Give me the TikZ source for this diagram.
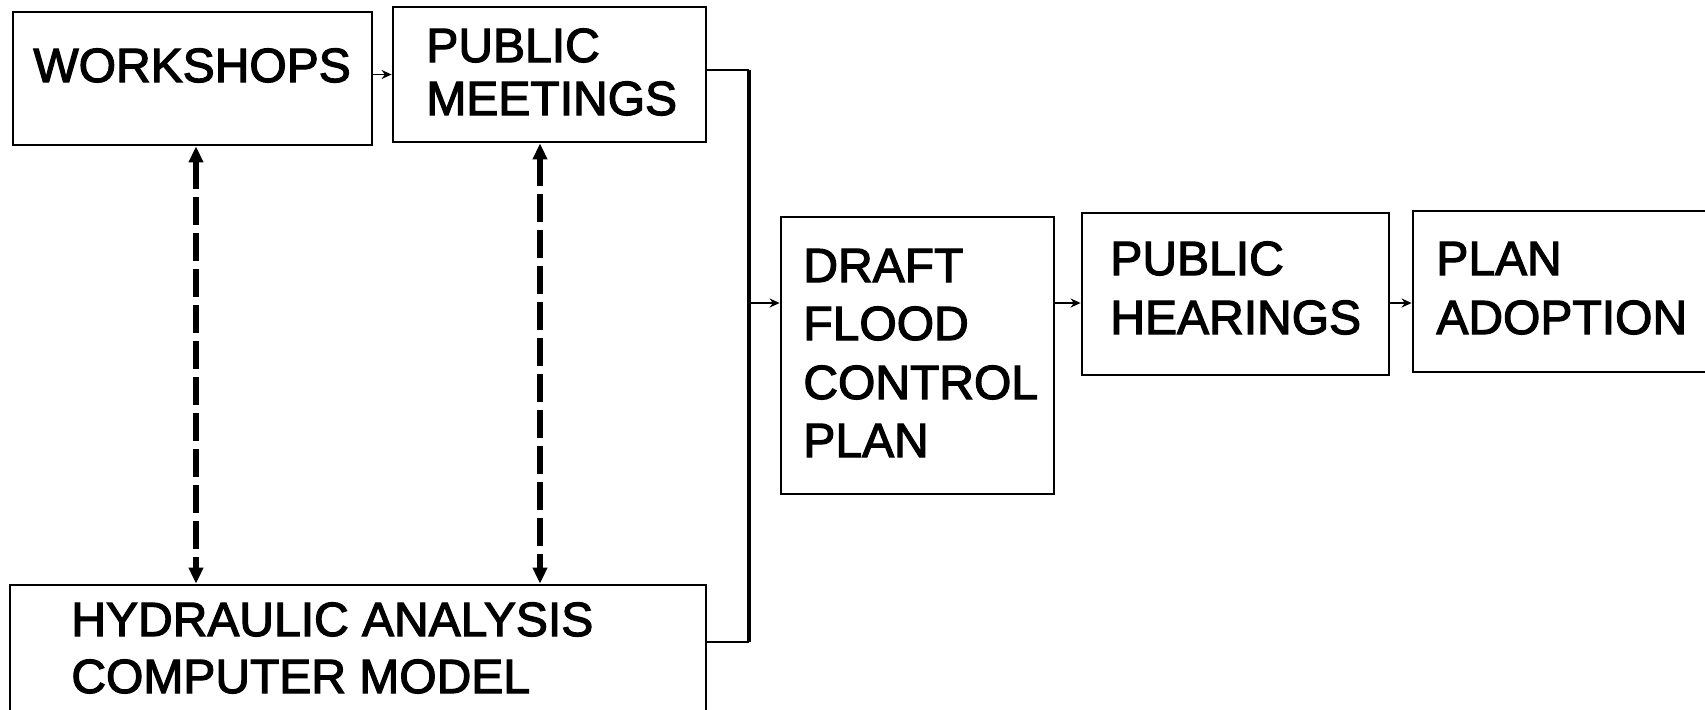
\documentclass[tikz,border=0pt]{standalone}
\usepackage{fontspec}
\setmainfont{Liberation Sans}
\newfontfamily\boxfont{Liberation Sans}[FakeBold=2.5]
\usetikzlibrary{arrows.meta,fit}
\begin{document}
\begin{tikzpicture}[x=0.5pt,y=-0.5pt,
  box/.style={draw=black,line width=1.4pt,inner sep=0pt,fit={#1}},
  lbl/.style={anchor=base west,inner sep=0pt,font=\boxfont\fontsize{24}{24}\selectfont},
  conn/.style={line width=0.9pt,-{Stealth[length=5pt,width=4.5pt]}},
  feed/.style={line width=1.4pt},
  dasharrow/.style={line width=3pt,dash pattern=on 14pt off 4pt,
    {Triangle[length=8pt,width=7pt]}-{Triangle[length=8pt,width=7pt]}}]
\useasboundingbox (0,0) rectangle (1705,709);
\clip (0,0) rectangle (1705,709);

% process boxes
\node[box={(13,12) (372,145)}] (ws) {};
\node[box={(393,7) (706,142)}] (pm) {};
\node[box={(10,585) (706,740)}] (hy) {};
\node[box={(781,217) (1054,494)}] (dr) {};
\node[box={(1082,213) (1389,375)}] (ph) {};
\node[box={(1413,211) (1740,372)}] (pa) {};

% box labels
\node[lbl] (wst) at (33,82) {WORKSHOPS};
\node[lbl] (pmt1) at (426,62) {PUBLIC};
\node[lbl] (pmt2) at (426,115) {MEETINGS};
\node[lbl] (hyt1) at (71,636) {HYDRAULIC ANALYSIS};
\node[lbl] (hyt2) at (71,693) {COMPUTER MODEL};
\node[lbl] (drt1) at (803,282) {DRAFT};
\node[lbl] (drt2) at (803,340) {FLOOD};
\node[lbl] (drt3) at (803,399) {CONTROL};
\node[lbl] (drt4) at (803,457) {PLAN};
\node[lbl] (pht1) at (1110,275) {PUBLIC};
\node[lbl] (pht2) at (1110,334) {HEARINGS};
\node[lbl] (pat1) at (1436,275) {PLAN};
\node[lbl] (pat2) at (1436,334) {ADOPTION};

% routing points
\coordinate (bt) at (749,70);
\coordinate (bb) at (749,642);
\coordinate (jn) at (749,303);
\coordinate (c1) at (196,0);
\coordinate (c2) at (540,0);

% feedback bracket joining meetings and model into the draft plan
\draw[feed] (pm.east |- bt) -- (bt);
\draw[feed] (bb) -- (bb -| hy.east);
\draw[line width=2.4pt] (bt) -- (bb);

% sequence arrows
\draw[conn] (ws.east |- pm.west) -- (pm.west);
\draw[conn] (jn) -- (jn -| dr.west);
\draw[conn] (dr.east |- jn) -- (ph.west |- jn);
\draw[conn] (ph.east |- jn) -- (pa.west |- jn);

% two-way exchanges with the computer model
\draw[dasharrow] (c1 |- ws.south) -- (c1 |- hy.north);
\draw[dasharrow] (c2 |- pm.south) -- (c2 |- hy.north);
\end{tikzpicture}
\end{document}
